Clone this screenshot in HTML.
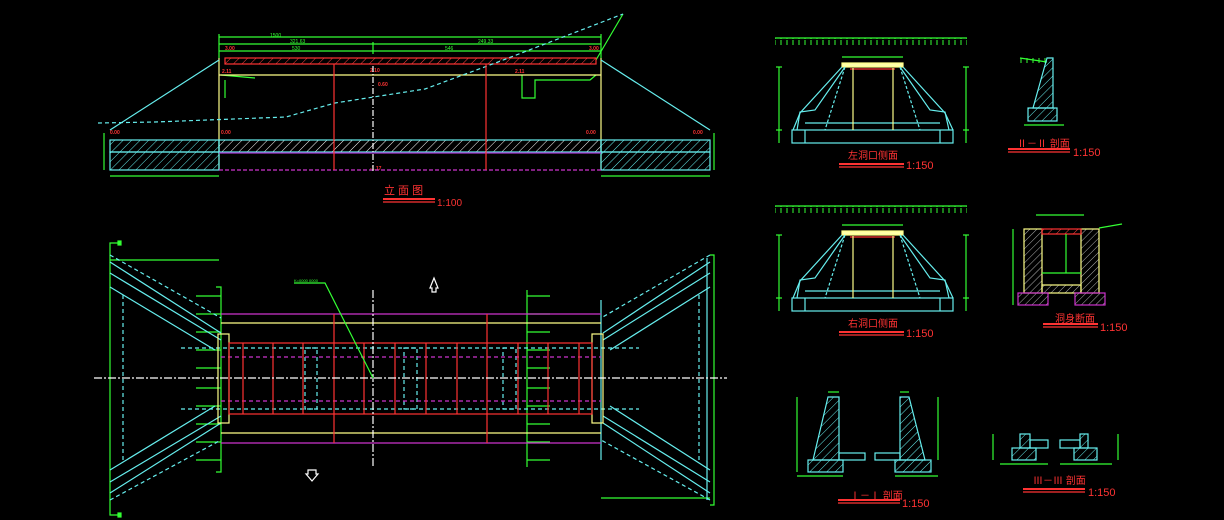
<!DOCTYPE html>
<html><head><meta charset="utf-8"><style>
html,body{margin:0;padding:0;background:#000;width:1224px;height:520px;overflow:hidden}
svg{display:block}
text{font-family:"Liberation Sans","Noto Sans CJK SC",sans-serif}
</style></head><body>
<svg width="1224" height="520" viewBox="0 0 1224 520" xmlns="http://www.w3.org/2000/svg">
<defs>
<pattern id="hw" width="6" height="6" patternUnits="userSpaceOnUse" patternTransform="rotate(45)"><line x1="0" y1="0" x2="0" y2="6" stroke="#fff" stroke-width="1"/></pattern>
<pattern id="hc" width="6" height="6" patternUnits="userSpaceOnUse" patternTransform="rotate(45)"><line x1="0" y1="0" x2="0" y2="6" stroke="#6ee" stroke-width="1"/></pattern>
<pattern id="hr" width="6" height="6" patternUnits="userSpaceOnUse" patternTransform="rotate(45)"><line x1="0" y1="0" x2="0" y2="6" stroke="#f44" stroke-width="1"/></pattern>
<pattern id="hg" width="5" height="5" patternUnits="userSpaceOnUse" patternTransform="rotate(45)"><line x1="0" y1="0" x2="0" y2="5" stroke="#ddd" stroke-width="0.8"/></pattern>
<pattern id="tick" width="6" height="8" patternUnits="userSpaceOnUse"><line x1="1" y1="0" x2="1" y2="7" stroke="#3f3" stroke-width="1"/></pattern>
</defs>
<g fill="none" stroke-width="1.2">
<!-- ELEVATION -->
<g stroke="#3f3">
<line x1="219" y1="37" x2="601" y2="37"/><line x1="219" y1="44" x2="601" y2="44"/><line x1="219" y1="51" x2="601" y2="51"/>
<line x1="219" y1="34" x2="219" y2="58"/><line x1="601" y1="34" x2="601" y2="58"/><line x1="373" y1="42" x2="373" y2="54"/>
<line x1="104" y1="133" x2="104" y2="170"/><line x1="714" y1="133" x2="714" y2="170"/>
<line x1="110" y1="176" x2="219" y2="176"/><line x1="601" y1="176" x2="710" y2="176"/>
<line x1="623" y1="14" x2="596" y2="60"/>
<line x1="221" y1="75" x2="255" y2="78"/><line x1="225" y1="80" x2="225" y2="98"/>
<polyline points="522,75 522,98 535,98 535,80 590,80 596,75"/>
</g>
<g fill="#f33" font-size="5" font-weight="bold"><text x="225" y="50">3.00</text><text x="589" y="50">3.00</text><text x="370" y="72">2.10</text><text x="222" y="73">2.11</text><text x="515" y="73">2.11</text><text x="110" y="134">0.00</text><text x="221" y="134">0.00</text><text x="586" y="134">0.00</text><text x="693" y="134">0.00</text><text x="370" y="170">-1.17</text><text x="378" y="86">0.60</text></g>
<g fill="#3f3" font-size="5"><text x="270" y="37">1500</text><text x="290" y="43">321.63</text><text x="478" y="43">249.33</text><text x="292" y="50">530</text><text x="445" y="50">546</text></g>
<rect x="225" y="58" width="371" height="6" fill="url(#hr)" stroke="#f33"/>
<g stroke="#ffff88"><line x1="219" y1="58" x2="219" y2="170"/><line x1="601" y1="58" x2="601" y2="170"/><line x1="219" y1="75" x2="601" y2="75"/></g>
<g stroke="#6ee"><line x1="219" y1="60" x2="110" y2="130"/><line x1="601" y1="60" x2="710" y2="130"/></g>
<polyline stroke="#6ee" stroke-dasharray="4,3" points="98,123 155,122 286,117 335,103 425,89 498,62 623,14"/>
<rect x="110" y="140" width="109" height="12" fill="url(#hc)" stroke="#6ee"/>
<rect x="601" y="140" width="109" height="12" fill="url(#hc)" stroke="#6ee"/>
<rect x="219" y="140" width="382" height="12" fill="url(#hw)" stroke="#6ee"/>
<rect x="110" y="152" width="109" height="18" fill="url(#hc)" stroke="#6ee"/>
<rect x="601" y="152" width="109" height="18" fill="url(#hc)" stroke="#6ee"/>
<line x1="219" y1="153" x2="601" y2="153" stroke="#a3c"/>
<line x1="219" y1="170" x2="601" y2="170" stroke="#c3c" stroke-dasharray="4,2"/>
<g stroke="#f33"><line x1="334" y1="64" x2="334" y2="170"/><line x1="486" y1="64" x2="486" y2="170"/></g>
<line x1="373" y1="66" x2="373" y2="172" stroke="#fff" stroke-dasharray="6,2,1,2"/>
<text x="384" y="194" fill="#f33" font-size="11">立 面 图</text>
<rect x="383" y="198" width="52" height="2" fill="#f33" stroke="none"/><line x1="383" y1="202" x2="435" y2="202" stroke="#f33"/>
<text x="437" y="206" fill="#f33" font-size="10">1:100</text>

<!-- PLAN -->
<g stroke="#3f3">
<polyline points="118,243 110,243 110,515 118,515"/><rect x="118" y="241" width="3" height="4" fill="#3f3"/><rect x="118" y="513" width="3" height="4" fill="#3f3"/>
<polyline points="710,255 714,255 714,505 710,505"/>
<line x1="110" y1="260" x2="219" y2="260"/><line x1="601" y1="498" x2="710" y2="498"/>
<polyline points="216,287 221,287 221,472 216,472"/>
<line x1="527" y1="290" x2="527" y2="467"/>
</g>
<g stroke="#3f3"><line x1="196" y1="296" x2="221" y2="296"/><line x1="196" y1="314" x2="221" y2="314"/><line x1="196" y1="332" x2="221" y2="332"/><line x1="196" y1="350" x2="221" y2="350"/><line x1="196" y1="368" x2="221" y2="368"/><line x1="196" y1="388" x2="221" y2="388"/><line x1="196" y1="406" x2="221" y2="406"/><line x1="196" y1="424" x2="221" y2="424"/><line x1="196" y1="442" x2="221" y2="442"/><line x1="196" y1="460" x2="221" y2="460"/>
<line x1="527" y1="296" x2="550" y2="296"/><line x1="527" y1="314" x2="550" y2="314"/><line x1="527" y1="332" x2="550" y2="332"/><line x1="527" y1="350" x2="550" y2="350"/><line x1="527" y1="368" x2="550" y2="368"/><line x1="527" y1="388" x2="550" y2="388"/><line x1="527" y1="406" x2="550" y2="406"/><line x1="527" y1="424" x2="550" y2="424"/><line x1="527" y1="442" x2="550" y2="442"/><line x1="527" y1="460" x2="550" y2="460"/></g>
<g stroke="#6ee">
<line x1="110" y1="262" x2="221" y2="333"/><line x1="110" y1="273" x2="221" y2="340"/><line x1="110" y1="287" x2="215" y2="350"/>
<line x1="110" y1="493" x2="221" y2="423"/><line x1="110" y1="482" x2="221" y2="416"/><line x1="110" y1="470" x2="215" y2="406"/>
<line x1="710" y1="262" x2="603" y2="333"/><line x1="710" y1="273" x2="603" y2="340"/><line x1="710" y1="287" x2="610" y2="350"/>
<line x1="710" y1="493" x2="603" y2="423"/><line x1="710" y1="482" x2="603" y2="416"/><line x1="710" y1="470" x2="610" y2="406"/>
<line x1="601" y1="300" x2="601" y2="460"/><line x1="707" y1="258" x2="707" y2="500"/>
</g>
<g stroke="#6ee" stroke-dasharray="4,3">
<line x1="123" y1="295" x2="123" y2="463"/><line x1="699" y1="295" x2="699" y2="463"/>
<line x1="110" y1="255" x2="221" y2="318"/><line x1="110" y1="500" x2="221" y2="440"/>
<line x1="710" y1="255" x2="601" y2="318"/><line x1="710" y1="500" x2="601" y2="440"/>
<line x1="181" y1="348" x2="639" y2="348"/><line x1="181" y1="409" x2="639" y2="409"/>
<rect x="305" y="348" width="12" height="61"/><rect x="404" y="348" width="13" height="61"/><rect x="503" y="348" width="13" height="61"/>
</g>
<g stroke="#c3c"><line x1="221" y1="314" x2="601" y2="314"/><line x1="221" y1="443" x2="601" y2="443"/></g>
<g stroke="#c3c" stroke-dasharray="4,3"><line x1="221" y1="357" x2="601" y2="357"/><line x1="221" y1="401" x2="601" y2="401"/></g>
<g stroke="#ffff88"><line x1="221" y1="323" x2="601" y2="323"/><line x1="221" y1="433" x2="601" y2="433"/><rect x="218" y="334" width="11" height="89"/><rect x="592" y="334" width="11" height="89"/></g>
<g stroke="#f33"><rect x="229" y="343" width="363" height="71"/>
<line x1="243" y1="343" x2="243" y2="414"/><line x1="273" y1="343" x2="273" y2="414"/><line x1="303" y1="343" x2="303" y2="414"/><line x1="364" y1="343" x2="364" y2="414"/><line x1="395" y1="343" x2="395" y2="414"/><line x1="426" y1="343" x2="426" y2="414"/><line x1="457" y1="343" x2="457" y2="414"/><line x1="518" y1="343" x2="518" y2="414"/><line x1="548" y1="343" x2="548" y2="414"/><line x1="579" y1="343" x2="579" y2="414"/>
<line x1="334" y1="314" x2="334" y2="443"/><line x1="487" y1="314" x2="487" y2="443"/></g>
<line x1="94" y1="378" x2="727" y2="378" stroke="#fff" stroke-dasharray="8,2,2,2"/>
<line x1="373" y1="290" x2="373" y2="467" stroke="#fff" stroke-dasharray="8,2,2,2"/>
<polyline points="294,283 325,283 373,378" stroke="#3f3"/>
<text x="294" y="282" fill="#3f3" font-size="4">K=0000 0000</text>
<path d="M430,288 L434,278 L438,288 L436,288 L436,292 L432,292 L432,288 Z" stroke="#fff"/>
<path d="M308,470 L316,470 L316,474 L318,474 L312,481 L306,474 L308,474 Z" stroke="#fff"/>

<!-- PORTALS -->
<g id="portal">
<line x1="775" y1="38" x2="967" y2="38" stroke="#3f3"/>
<rect x="775" y="38" width="192" height="7" fill="url(#tick)" stroke="none"/>
<rect x="842" y="63" width="61" height="4" fill="#ffffaa" stroke="#ffff88"/>
<line x1="850" y1="69" x2="895" y2="69" stroke="#f33"/>
<line x1="842" y1="57" x2="903" y2="57" stroke="#3f3"/>
<g stroke="#6ee"><polyline points="842,67 800,113 793,130"/><polyline points="903,67 945,113 953,130"/><polyline points="845,67 815,110 800,112 797,130"/><polyline points="900,67 930,110 945,112 949,130"/>
<rect x="792" y="130" width="161" height="13"/><line x1="805" y1="123" x2="940" y2="123"/><line x1="845" y1="67" x2="825" y2="130" stroke-dasharray="3,2"/><line x1="900" y1="67" x2="920" y2="130" stroke-dasharray="3,2"/>
<line x1="805" y1="130" x2="805" y2="143"/><line x1="940" y1="130" x2="940" y2="143"/></g>
<g stroke="#ffff88"><line x1="853" y1="68" x2="853" y2="130"/><line x1="893" y1="68" x2="893" y2="130"/></g>
<g stroke="#3f3"><line x1="779" y1="67" x2="779" y2="143"/><line x1="966" y1="67" x2="966" y2="143"/><line x1="776" y1="67" x2="782" y2="67"/><line x1="963" y1="67" x2="969" y2="67"/><line x1="776" y1="130" x2="782" y2="130"/><line x1="963" y1="130" x2="969" y2="130"/></g>
<rect x="839" y="163" width="65" height="2" fill="#f33" stroke="none"/><line x1="839" y1="167" x2="904" y2="167" stroke="#f33"/>
<text x="906" y="169" fill="#f33" font-size="11">1:150</text>
</g>
<text x="848" y="159" fill="#f33" font-size="10">左洞口侧面</text>
<use href="#portal" y="168"/>
<text x="848" y="327" fill="#f33" font-size="10">右洞口侧面</text>

<!-- II-II -->
<polyline points="1020,58 1047,62" stroke="#3f3"/>
<rect x="1020" y="58" width="27" height="6" fill="url(#tick)" stroke="none"/>
<path d="M1047,58 L1053,58 L1053,108 L1033,108 Z" fill="url(#hc)" stroke="#6ee"/>
<rect x="1028" y="108" width="29" height="13" fill="url(#hc)" stroke="#6ee"/>
<line x1="1024" y1="125" x2="1064" y2="125" stroke="#3f3"/>
<text x="1017" y="147" fill="#f33" font-size="10">Ⅱ－Ⅱ 剖面</text>
<rect x="1008" y="148" width="62" height="2" fill="#f33" stroke="none"/><line x1="1008" y1="152" x2="1070" y2="152" stroke="#f33"/>
<text x="1073" y="156" fill="#f33" font-size="11">1:150</text>

<!-- Culvert section -->
<rect x="1024" y="229" width="18" height="64" fill="url(#hg)" stroke="#ffff88"/>
<rect x="1081" y="229" width="18" height="64" fill="url(#hg)" stroke="#ffff88"/>
<rect x="1042" y="229" width="39" height="5" fill="url(#hr)" stroke="#f33"/>
<rect x="1042" y="285" width="39" height="8" fill="url(#hg)" stroke="#ffff88"/>
<rect x="1018" y="293" width="30" height="12" fill="url(#hg)" stroke="#c3c"/>
<rect x="1075" y="293" width="30" height="12" fill="url(#hg)" stroke="#c3c"/>
<g stroke="#3f3"><line x1="1036" y1="215" x2="1084" y2="215"/><line x1="1013" y1="229" x2="1013" y2="305"/><line x1="1042" y1="273" x2="1081" y2="273"/><line x1="1066" y1="234" x2="1066" y2="273"/><line x1="1099" y1="228" x2="1122" y2="224"/></g>
<text x="1055" y="322" fill="#f33" font-size="10">洞身断面</text>
<rect x="1043" y="323" width="55" height="2" fill="#f33" stroke="none"/><line x1="1043" y1="327" x2="1098" y2="327" stroke="#f33"/>
<text x="1100" y="331" fill="#f33" font-size="11">1:150</text>

<!-- I-I -->
<path d="M828,397 L839,397 L839,460 L813,460 Z" fill="url(#hc)" stroke="#6ee"/>
<rect x="808" y="460" width="35" height="12" fill="url(#hc)" stroke="#6ee"/>
<rect x="839" y="453" width="26" height="7" stroke="#6ee"/>
<path d="M900,397 L909,397 L925,460 L900,460 Z" fill="url(#hc)" stroke="#6ee"/>
<rect x="895" y="460" width="36" height="12" fill="url(#hc)" stroke="#6ee"/>
<rect x="875" y="453" width="25" height="7" stroke="#6ee"/>
<g stroke="#3f3"><line x1="797" y1="397" x2="797" y2="472"/><line x1="938" y1="397" x2="938" y2="460"/><line x1="797" y1="476" x2="843" y2="476"/><line x1="895" y1="476" x2="938" y2="476"/><line x1="828" y1="392" x2="839" y2="392"/><line x1="900" y1="392" x2="909" y2="392"/></g>
<text x="850" y="499" fill="#f33" font-size="10">Ⅰ－Ⅰ 剖面</text>
<rect x="838" y="499" width="62" height="2" fill="#f33" stroke="none"/><line x1="838" y1="503" x2="900" y2="503" stroke="#f33"/>
<text x="902" y="507" fill="#f33" font-size="11">1:150</text>

<!-- III-III -->
<rect x="1020" y="434" width="10" height="14" fill="url(#hc)" stroke="#6ee"/>
<rect x="1012" y="448" width="24" height="12" fill="url(#hc)" stroke="#6ee"/>
<rect x="1030" y="440" width="18" height="8" stroke="#6ee"/>
<rect x="1080" y="434" width="8" height="14" fill="url(#hc)" stroke="#6ee"/>
<rect x="1074" y="448" width="23" height="12" fill="url(#hc)" stroke="#6ee"/>
<rect x="1060" y="440" width="20" height="8" stroke="#6ee"/>
<g stroke="#3f3"><line x1="993" y1="434" x2="993" y2="460"/><line x1="1118" y1="434" x2="1118" y2="460"/><line x1="1000" y1="464" x2="1048" y2="464"/><line x1="1060" y1="464" x2="1112" y2="464"/></g>
<text x="1033" y="484" fill="#f33" font-size="10">Ⅲ－Ⅲ 剖面</text>
<rect x="1023" y="488" width="62" height="2" fill="#f33" stroke="none"/><line x1="1023" y1="492" x2="1085" y2="492" stroke="#f33"/>
<text x="1088" y="496" fill="#f33" font-size="11">1:150</text>
</g>
</svg>
</body></html>
